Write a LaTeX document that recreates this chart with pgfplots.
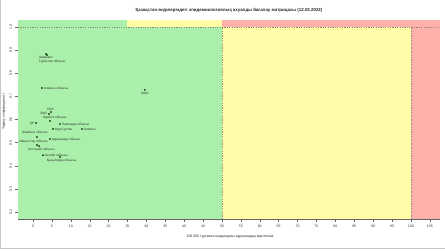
\documentclass[border=0pt]{standalone}
\usepackage{fontspec}
\setmainfont{Liberation Sans}
\usepackage{pgfplots}
\pgfplotsset{compat=1.18}
\definecolor{zgreen}{RGB}{170,240,170}
\definecolor{zyellow}{RGB}{255,251,166}
\definecolor{zred}{RGB}{255,176,170}
\definecolor{zdash}{RGB}{140,140,125}
% label helper: #1 = l/c/r, #2 = dx (pt), #3 = dy (pt), #4 = text
\newcommand\lbl[4]{\makebox[0pt][#1]{\hspace*{#2pt}\raisebox{\dimexpr #3pt - 1.1pt\relax}{#4}\hspace*{-#2pt}}}
\begin{document}
\begin{tikzpicture}
\useasboundingbox (0,0) rectangle (445pt,250pt);
\draw[gray!45, line width=0.8pt] (0.4pt,250pt) -- (0.4pt,1.2pt) -- (445pt,1.2pt);
\begin{axis}[
  at={(18pt,31pt)}, anchor=south west,
  scale only axis, width=422pt, height=199pt,
  xmin=-3.97, xmax=107.7, ymin=0.17, ymax=1.03,
  axis x line*=bottom, axis y line*=left,
  axis line style={black!60, -, line width=0.3pt},
  tick style={black!60, line width=0.3pt},
  tick align=outside, major tick length=2.5pt,
  xtick={0,5,...,105},
  ytick={0.2,0.3,0.4,0.5,0.6,0.7,0.8,0.9,1.0},
  /pgf/number format/assume math mode=true,
  yticklabel style={rotate=90, /pgf/number format/.cd, fixed, fixed zerofill, precision=1},
  ticklabel style={font=\fontsize{3.5}{4}\selectfont, text=black!80},
  xticklabel style={yshift=-0.5pt},
  clip=false,
]
\fill[zgreen] (axis cs:-3.97,0.17) rectangle (axis cs:50,1);
\fill[zyellow] (axis cs:50,0.17) rectangle (axis cs:100,1);
\fill[zred] (axis cs:100,0.17) rectangle (axis cs:107.7,1);
\fill[zgreen] (axis cs:-3.97,1) rectangle (axis cs:25,1.03);
\fill[zyellow] (axis cs:25,1) rectangle (axis cs:50,1.03);
\fill[zred] (axis cs:50,1) rectangle (axis cs:107.7,1.03);
\draw[zdash, line width=0.3pt, dash pattern=on 1.2pt off 1.2pt] (axis cs:-3.97,1) -- (axis cs:107.7,1);
\draw[zdash, line width=0.3pt, dash pattern=on 1.2pt off 1.2pt] (axis cs:50,0.17) -- (axis cs:50,1);
\draw[zdash, line width=0.3pt, dash pattern=on 1.2pt off 1.2pt] (axis cs:100,0.17) -- (axis cs:100,1);
\addplot[only marks, mark=*, mark size=0.6pt, color=black!75!green!60!black,
  point meta=explicit symbolic,
  nodes near coords,
  every node near coord/.append style={anchor=base, inner sep=0pt,
    font=\fontsize{3.2}{3.6}\selectfont, text=black!80},
] table[x=x, y=y, meta=lbl, col sep=semicolon, row sep=\\] {
x;y;lbl\\
3.44;0.883;\lbl{l}{-7}{-3.5}{Шымкент}\\
3.70;0.879;\lbl{l}{-8}{-6}{Түркістан облысы}\\
2.38;0.736;\lbl{l}{2}{0}{Алматы облысы}\\
29.6;0.728;\lbl{c}{0}{-3.5}{ШҚО}\\
4.76;0.632;\lbl{c}{-0.5}{3}{СҚО}\\
4.23;0.624;\lbl{r}{-2}{0.5}{БҚО}\\
4.50;0.594;\lbl{l}{-7}{3}{Ақмола облысы}\\
0.79;0.585;\lbl{r}{-2}{0}{ҚР}\\
7.14;0.581;\lbl{l}{2}{0}{Павлодар облысы}\\
5.29;0.559;\lbl{l}{2}{0}{Нұр-Сұлтан}\\
12.96;0.559;\lbl{l}{2}{0}{Алматы}\\
1.06;0.524;\lbl{c}{-2}{4.5}{Жамбыл облысы}\\
4.50;0.516;\lbl{l}{2}{0}{Қарағанды облысы}\\
1.06;0.490;\lbl{c}{-3.5}{3.5}{Маңғыстау облысы}\\
1.59;0.485;\lbl{c}{2.5}{-3}{Қостанай облысы}\\
2.65;0.446;\lbl{l}{2}{0}{Ақтөбе облысы}\\
7.14;0.438;\lbl{c}{1.5}{-3.5}{Қызылорда облысы}\\
};
\end{axis}
\node[font=\bfseries\fontsize{4.4}{5}\selectfont, text=black!85] at (229pt,240pt)
  {Қазақстан өңірлеріндегі эпидемиологиялық ахуалды бағалау матрицасы  (12.03.2022)};
\node[font=\fontsize{3.5}{4}\selectfont, text=black!85] at (230pt,13pt)
  {100 000 тұрғынға шаққандағы аурушаңдық көрсеткіші};
\node[font=\fontsize{3.5}{4}\selectfont, text=black!85, rotate=90] at (4pt,138pt)
  {Таралу коэффициенті};
\end{tikzpicture}
\end{document}
